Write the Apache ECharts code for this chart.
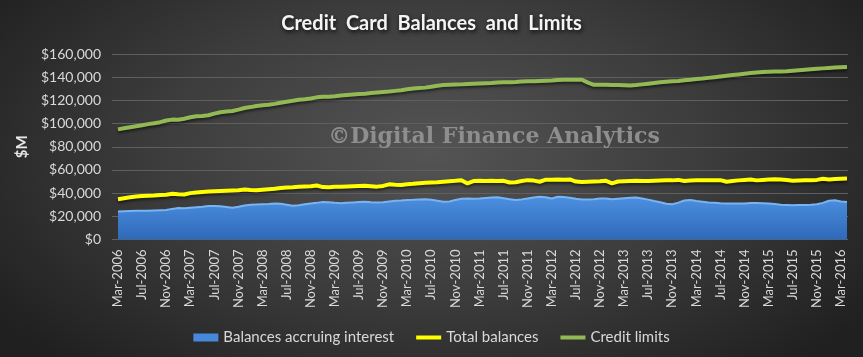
<!DOCTYPE html>
<html><head><meta charset="utf-8">
<script src="https://cdn.jsdelivr.net/npm/echarts@6/dist/echarts.min.js"></script>
<style>
html,body{margin:0;padding:0;}
body{width:863px;height:357px;overflow:hidden;background:radial-gradient(ellipse 62% 80% at 50% 42%, #545454 0%, #3d3d3d 50%, #202020 100%);}
#c{width:863px;height:357px;}
</style></head><body><div id="c"></div>
<script>
// Monthly data, Mar-2006 .. Apr-2016 ($M)
const monthNames = ['Jan','Feb','Mar','Apr','May','Jun','Jul','Aug','Sep','Oct','Nov','Dec'];
const startYear = 2006, startMonthIdx = 2;

const balancesAccruing = [
  24200, 24400, 24600, 24800, 24800, 24800, 25000, 25200, 25400, 26400, 27200, 27000,
  27400, 27800, 28200, 28800, 29000, 28600, 28000, 27400, 28200, 29400, 30000, 30200,
  30400, 30600, 31000, 30800, 30000, 29200, 29600, 30400, 31000, 31600, 32400, 32200,
  31600, 31200, 31600, 32000, 32400, 32600, 32200, 32000, 32200, 32800, 33400, 33600,
  34000, 34200, 34600, 34800, 34200, 33400, 32600, 32800, 34000, 35200, 35400, 35200,
  35400, 35800, 36200, 36400, 35600, 34800, 34000, 34600, 35400, 36200, 36800, 36400,
  35400, 36800, 36600, 36000, 35200, 34600, 34600, 34800, 35400, 35400, 34800, 35200,
  35600, 36000, 36200, 35400, 34400, 33200, 32200, 30800, 30400, 31800, 33600, 34000,
  33200, 32600, 32000, 31600, 31200, 31000, 31000, 31000, 31000, 31400, 31400, 31200,
  31000, 30600, 30000, 29800, 29600, 29800, 29800, 30000, 30400, 31600, 33400, 33800,
  32800, 32400
];
const totalBalances = [
  34800, 35600, 36400, 37000, 37600, 37800, 38000, 38400, 38600, 39400, 39000, 38800,
  40000, 40600, 41000, 41400, 41600, 41800, 42000, 42200, 42400, 43200, 42600, 42400,
  43000, 43400, 43800, 44400, 44800, 45000, 45400, 45800, 46000, 46600, 45200, 45000,
  45400, 45600, 45800, 46000, 46200, 46400, 46000, 45600, 46200, 47600, 47200, 47000,
  47600, 48000, 48600, 49000, 49200, 49400, 49800, 50200, 50600, 51200, 48400, 50400,
  50600, 50400, 50600, 50400, 50600, 49200, 49400, 50400, 51200, 50800, 49800, 51600,
  51600, 51800, 51600, 51800, 50000, 49600, 49800, 50000, 50200, 50600, 48400, 50000,
  50200, 50400, 50600, 50400, 50400, 50600, 50800, 51000, 51000, 51400, 50400, 50800,
  51000, 51000, 51200, 51000, 51200, 49800, 50400, 51000, 51400, 51800, 51000, 51400,
  51800, 52000, 51800, 51400, 50600, 50800, 51000, 51200, 51400, 52400, 51800, 52200,
  52400, 52600
];
const creditLimits = [
  95000, 95900, 96800, 97700, 98600, 99500, 100300, 101200, 102600, 103400, 103300, 104200,
  105400, 106300, 106600, 107200, 108600, 109800, 110400, 110800, 112000, 113400, 114200, 115200,
  115800, 116200, 117000, 118000, 118800, 119600, 120500, 121000, 121600, 122600, 123200, 123200,
  123600, 124200, 124600, 125000, 125400, 125800, 126400, 126800, 127200, 127600, 128200, 128800,
  129600, 130200, 130600, 131000, 131800, 132600, 133200, 133400, 133600, 133800, 134200, 134400,
  134600, 134800, 135000, 135400, 135600, 135600, 135800, 136200, 136400, 136600, 136800, 137000,
  137200, 137600, 137800, 137800, 137800, 137800, 135300, 133400, 133400, 133400, 133200, 133200,
  133000, 132800, 133200, 133800, 134400, 135000, 135600, 136000, 136400, 136800, 137400, 137800,
  138400, 138800, 139400, 140000, 140600, 141200, 141800, 142400, 143000, 143600, 144000, 144400,
  144600, 144800, 145000, 145200, 145600, 146000, 146400, 146800, 147200, 147600, 148000, 148400,
  148600, 148800
];
const yTicks = { min: 0, max: 160000, step: 20000 };
const seriesNames = ['Balances accruing interest', 'Total balances', 'Credit limits'];

const categories = [];
for (let i = 0; i < creditLimits.length; i++) {
  const m = (startMonthIdx + i) % 12;
  const y = startYear + Math.floor((startMonthIdx + i) / 12);
  categories.push(monthNames[m] + '-' + y);
}

const FONT = 'Lato, "Open Sans", sans-serif';
const LINE_ICON = 'path://M0,0L0.01,0M0,2H25V6H0ZM25,8L24.99,8Z';
const chart = echarts.init(document.getElementById('c'), null, { renderer: 'canvas' });
const lineShadow = { shadowColor: 'rgba(0,0,0,0.55)', shadowBlur: 3, shadowOffsetY: 2 };

chart.setOption({
  backgroundColor: 'transparent',
  animation: false,
  title: {
    text: 'Credit  Card  Balances  and  Limits',
    left: 'center', top: 9,
    textStyle: {
      color: '#f4f4f4', fontSize: 20, fontWeight: 'bold', fontFamily: FONT,
      textShadowColor: 'rgba(0,0,0,0.85)', textShadowBlur: 4, textShadowOffsetX: 1, textShadowOffsetY: 2
    }
  },
  legend: {
    bottom: 7, left: 'center',
    itemWidth: 25, itemHeight: 8, itemGap: 22,
    textStyle: { color: '#d9d9d9', fontSize: 15, fontFamily: FONT },
    data: [
      { name: seriesNames[0], icon: 'rect' },
      { name: seriesNames[1], icon: LINE_ICON },
      { name: seriesNames[2], icon: LINE_ICON }
    ]
  },
  graphic: [{
    type: 'text', z: 1, silent: true,
    x: 494, y: 137,
    style: {
      text: '\u00A9Digital Finance Analytics',
      font: 'bold 22px "DejaVu Serif", serif',
      fill: '#8e8e8e', align: 'center', verticalAlign: 'middle'
    }
  }],
  grid: [
    { left: 112, right: 15, top: 54, bottom: 117.5 },
    { left: 118, right: 16, top: 54, bottom: 117.5 }
  ],
  xAxis: [
    { gridIndex: 0, type: 'value', show: false, min: 0, max: 1 },
    {
      gridIndex: 1, type: 'category', data: categories, boundaryGap: false,
      axisLine: { show: false }, axisTick: { show: false },
      axisLabel: { interval: 3, rotate: 90, color: '#d9d9d9', fontSize: 13, fontFamily: FONT, margin: 10 }
    }
  ],
  yAxis: [
    {
      gridIndex: 0, type: 'value', min: yTicks.min, max: yTicks.max, interval: yTicks.step,
      axisLine: { show: false }, axisTick: { show: false },
      axisLabel: {
        color: '#d9d9d9', fontSize: 14, fontFamily: FONT, margin: 11,
        formatter: v => '$' + v.toLocaleString('en-US')
      },
      splitLine: { lineStyle: { color: '#5f5f5f', width: 1 } },
      name: '$M', nameLocation: 'middle', nameGap: 78, nameRotate: 90,
      nameTextStyle: { color: '#e6e6e6', fontSize: 15, fontWeight: 'bold', fontFamily: FONT }
    },
    { gridIndex: 1, type: 'value', min: yTicks.min, max: yTicks.max, show: false, splitLine: { show: false } }
  ],
  series: [
    {
      name: seriesNames[0], type: 'line', xAxisIndex: 1, yAxisIndex: 1,
      data: balancesAccruing, symbol: 'none', z: 2,
      itemStyle: { color: '#4688da' },
      lineStyle: { color: '#78b4f2', width: 2 },
      areaStyle: {
        opacity: 1,
        color: new echarts.graphic.LinearGradient(0, 0, 0, 1, [
          { offset: 0, color: '#4c8fe0' },
          { offset: 1, color: '#2f69b8' }
        ])
      }
    },
    {
      name: seriesNames[1], type: 'line', xAxisIndex: 1, yAxisIndex: 1,
      data: totalBalances, symbol: 'none', z: 3,
      itemStyle: { color: '#ffff00' },
      lineStyle: Object.assign({ color: '#ffff00', width: 4 }, lineShadow)
    },
    {
      name: seriesNames[2], type: 'line', xAxisIndex: 1, yAxisIndex: 1,
      data: creditLimits, symbol: 'none', z: 3,
      itemStyle: { color: '#92b954' },
      lineStyle: Object.assign({ color: '#92b954', width: 4 }, lineShadow)
    }
  ]
});
</script></body></html>
